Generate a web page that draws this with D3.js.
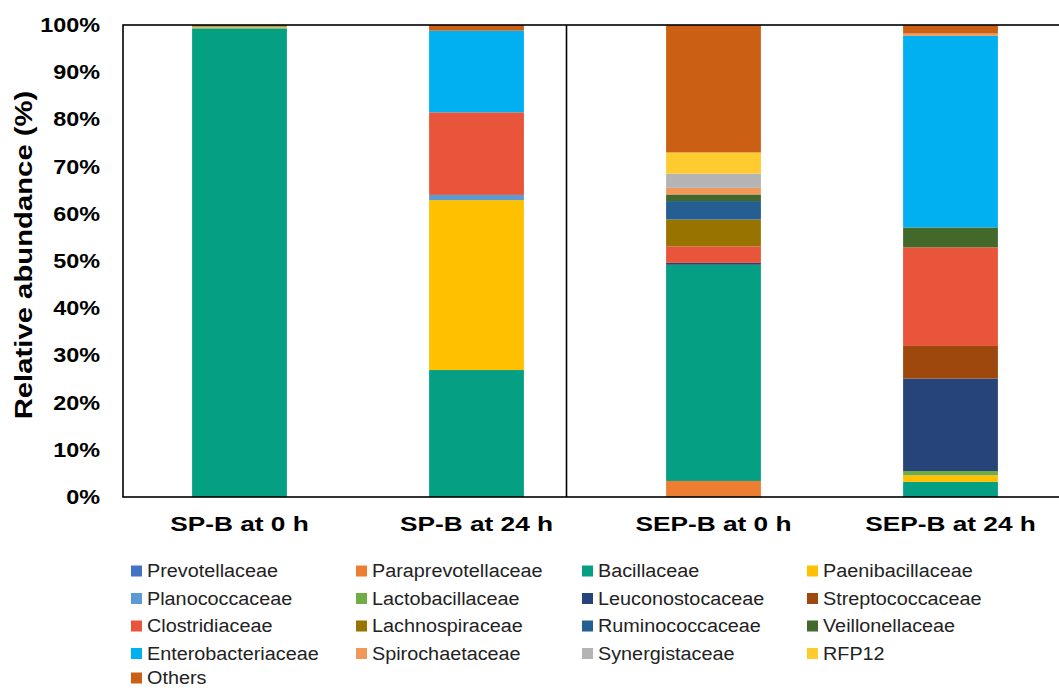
<!DOCTYPE html>
<html>
<head>
<meta charset="utf-8">
<script src="https://cdn.jsdelivr.net/npm/d3@7"></script>
<style>
  html, body { margin: 0; padding: 0; background: #fff; }
  svg { display: block; font-family: Arial, "Liberation Sans", sans-serif; }
</style>
</head>
<body>
<svg id="chart" width="1059" height="688"></svg>
<script>
// ---------- DATA ----------
const categories = ["SP-B at 0 h", "SP-B at 24 h", "SEP-B at 0 h", "SEP-B at 24 h"];
const families = ["Prevotellaceae", "Paraprevotellaceae", "Bacillaceae", "Paenibacillaceae",
  "Planococcaceae", "Lactobacillaceae", "Leuconostocaceae", "Streptococcaceae",
  "Clostridiaceae", "Lachnospiraceae", "Ruminococcaceae", "Veillonellaceae",
  "Enterobacteriaceae", "Spirochaetaceae", "Synergistaceae", "RFP12", "Others"];
const familyColors = ["#4472C4", "#ED7D31", "#05A084", "#FFC000",
  "#5B9BD5", "#70AD47", "#264478", "#9E480E",
  "#E9553A", "#997300", "#255E91", "#43682B",
  "#00B0F0", "#F1975A", "#B4B4B4", "#FFCB2F", "#CB6015"];
// values (%) per sample, in the order of `families`
const spB0   = [0, 0, 99.3, 0.3, 0.2, 0, 0, 0, 0, 0, 0, 0, 0, 0, 0, 0, 0.2];
const spB24  = [0, 0, 26.9, 36.0, 1.1, 0, 0, 0, 17.5, 0, 0, 0, 17.3, 0, 0, 0, 1.2];
const sepB0  = [0, 3.4, 45.8, 0, 0, 0, 0.4, 0, 3.5, 5.7, 3.9, 1.4, 0, 1.4, 3.0, 4.5, 27.0];
const sepB24 = [0, 0, 3.2, 1.4, 0, 0.9, 19.6, 6.9, 20.9, 0, 0, 4.2, 40.6, 0.5, 0, 0, 1.8];
const sampleValues = [spB0, spB24, sepB0, sepB24];
const yTicks = [0, 10, 20, 30, 40, 50, 60, 70, 80, 90, 100];

// ---------- LAYOUT ----------
const svg = d3.select("#chart");
const plotLeft = 121, plotRight = 1069, plotTop = 25, plotBottom = 497;
const dividerX = 566.5;
const FONT = "Arial, 'Liberation Sans', sans-serif";

function stretch(sel, factor) {
  sel.each(function () {
    const len = this.getComputedTextLength();
    d3.select(this).attr("textLength", len * factor).attr("lengthAdjust", "spacingAndGlyphs");
  });
}

const x = d3.scaleBand().domain(categories).range([plotLeft, plotRight])
  .paddingInner(0.6).paddingOuter(0.3);
const y = d3.scaleLinear().domain([0, 100]).range([plotBottom, plotTop]);

const rows = categories.map((c, i) => {
  const o = { category: c };
  families.forEach((f, j) => o[f] = sampleValues[i][j]);
  return o;
});
const stacked = d3.stack().keys(families)(rows);
const color = d3.scaleOrdinal().domain(families).range(familyColors);

// bars
svg.append("g").selectAll("g").data(stacked).join("g")
  .attr("fill", d => color(d.key))
  .selectAll("rect").data(d => d.filter(s => s[1] - s[0] > 0)).join("rect")
  .attr("x", d => x(d.data.category))
  .attr("width", x.bandwidth())
  .attr("y", d => y(d[1]))
  .attr("height", d => y(d[0]) - y(d[1]));

// frame
const frame = svg.append("g").attr("stroke", "#000").attr("stroke-width", 1.6).attr("fill", "none");
frame.append("rect").attr("x", 123).attr("y", y(100)).attr("width", plotRight - 123).attr("height", y(0) - y(100));
frame.append("line").attr("x1", dividerX).attr("x2", dividerX).attr("y1", y(100)).attr("y2", y(0));

// y axis
const yAxis = d3.axisLeft(y).tickValues(yTicks).tickSize(0).tickPadding(23)
  .tickFormat(d => d + "%");
const yg = svg.append("g").attr("transform", `translate(123,0)`).call(yAxis);
yg.select(".domain").remove();
yg.selectAll("text").attr("font-size", 20).attr("font-weight", "bold")
  .attr("fill", "#000").attr("font-family", FONT).call(stretch, 1.17);

// x axis
const xAxis = d3.axisBottom(x).tickSize(0).tickPadding(19);
const xg = svg.append("g").attr("transform", `translate(0,${plotBottom})`).call(xAxis);
xg.select(".domain").remove();
xg.selectAll("text").attr("font-size", 21).attr("font-weight", "bold")
  .attr("fill", "#000").attr("font-family", FONT).call(stretch, 1.25);

// y title
svg.append("text")
  .attr("transform", `translate(32,${(plotTop + plotBottom) / 2 - 6}) rotate(-90)`)
  .attr("text-anchor", "middle")
  .attr("font-size", 24).attr("font-weight", "bold").attr("fill", "#000")
  .text("Relative abundance (%)").call(stretch, 1.22);

// legend
const legCols = [131, 356, 582, 807];
const legRows = [571, 598.5, 626, 653.5, 678];
const leg = svg.append("g");
families.forEach((f, i) => {
  const cx = legCols[i % 4], cy = legRows[Math.floor(i / 4)];
  leg.append("rect").attr("x", cx).attr("y", cy - 5.5).attr("width", 11).attr("height", 11)
    .attr("fill", color(f));
  leg.append("text").attr("x", cx + 16).attr("y", cy).attr("dy", "0.35em")
    .attr("font-size", 18).attr("fill", "#222").text(f).call(stretch, 1.1);
});
</script>
</body>
</html>
